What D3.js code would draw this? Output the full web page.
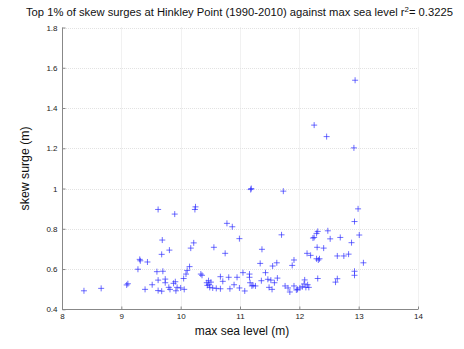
<!DOCTYPE html>
<html><head><meta charset="utf-8">
<script src="https://cdn.jsdelivr.net/npm/d3@7"></script>
<style>body{margin:0;background:#fff}svg{display:block}</style>
</head><body>
<svg id="c" width="464" height="349"></svg>
<script>
const maxSeaLevel = [8.37,8.66,9.09,9.11,9.31,9.32,9.44,9.28,9.62,9.90,9.69,9.81,9.68,9.60,9.70,9.62,9.74,9.40,9.52,9.62,9.68,9.74,9.80,9.88,9.91,9.94,9.92,9.82,10.00,10.06,10.05,10.09,10.11,10.15,10.34,10.36,10.17,10.22,10.25,10.24,10.47,10.51,10.44,10.45,10.48,10.49,10.54,10.60,10.67,10.67,10.71,10.81,10.83,10.90,10.95,10.99,11.05,11.08,10.56,10.75,10.78,10.87,10.99,11.19,11.18,11.73,11.70,11.37,11.34,11.55,11.62,11.91,11.88,11.16,11.16,11.43,11.47,11.52,11.36,11.63,11.58,11.17,11.20,11.22,11.26,11.49,11.54,11.76,11.81,11.84,11.91,11.97,12.01,12.05,12.08,12.09,12.14,12.16,12.11,11.95,12.31,12.64,12.61,12.93,12.93,13.08,12.13,12.19,12.29,12.32,12.34,12.64,12.75,12.83,12.30,12.41,12.31,12.29,12.25,12.23,12.48,12.52,12.69,12.88,13.01,12.93,12.99,12.94,12.25,12.46,12.92];
const skewSurge = [0.492,0.504,0.521,0.527,0.648,0.641,0.635,0.599,0.896,0.873,0.744,0.694,0.673,0.587,0.589,0.545,0.550,0.499,0.522,0.493,0.490,0.532,0.509,0.529,0.537,0.509,0.492,0.499,0.506,0.499,0.553,0.575,0.593,0.612,0.575,0.569,0.704,0.730,0.909,0.896,0.542,0.535,0.532,0.519,0.522,0.509,0.506,0.504,0.502,0.562,0.539,0.559,0.502,0.522,0.559,0.506,0.582,0.491,0.708,0.678,0.827,0.810,0.751,1.000,0.995,0.987,0.770,0.698,0.628,0.615,0.631,0.645,0.618,0.575,0.559,0.582,0.549,0.545,0.542,0.555,0.532,0.532,0.516,0.519,0.516,0.509,0.499,0.516,0.506,0.486,0.516,0.499,0.506,0.512,0.526,0.546,0.522,0.509,0.509,0.496,0.553,0.552,0.535,0.589,0.569,0.631,0.678,0.668,0.651,0.645,0.651,0.665,0.665,0.674,0.708,0.704,0.787,0.777,0.757,0.754,0.790,0.750,0.757,0.731,0.769,0.836,0.899,1.538,1.315,1.258,1.202];
const xTicks = [8,9,10,11,12,13,14];
const yTicks = [0.4,0.6,0.8,1,1.2,1.4,1.6,1.8];
const titleText = "Top 1% of skew surges at Hinkley Point (1990-2010) against max sea level r";
const titleSup = "2";
const titleEnd = "= 0.3225";
const xLabel = "max sea level (m)";
const yLabel = "skew surge (m)";

const svg = d3.select("#c");
const L = 62, R = 418, T = 27.5, B = 309.3;
const x = d3.scaleLinear().domain([8,14]).range([L,R]);
const y = d3.scaleLinear().domain([0.4,1.8]).range([B,T]);
const font = "'Liberation Sans', Arial, Helvetica, sans-serif";

// grid
const g = svg.append("g");
g.selectAll(".gx").data(xTicks).join("line")
  .attr("x1",d=>Math.round(x(d))+0.5).attr("x2",d=>Math.round(x(d))+0.5)
  .attr("y1",T).attr("y2",B)
  .attr("stroke","#e2e2e2").attr("stroke-width",1).attr("stroke-dasharray","1,1");
g.selectAll(".gy").data(yTicks).join("line")
  .attr("y1",d=>Math.round(y(d))+0.5).attr("y2",d=>Math.round(y(d))+0.5)
  .attr("x1",L).attr("x2",R)
  .attr("stroke","#e2e2e2").attr("stroke-width",1).attr("stroke-dasharray","1,1");

// axes
const xa = svg.append("g").attr("transform",`translate(0,${Math.round(B)+0.5})`)
  .call(d3.axisBottom(x).tickValues(xTicks).tickSize(-3).tickPadding(4).tickFormat(d3.format("d")));
const ya = svg.append("g").attr("transform",`translate(${L+0.5},0)`)
  .call(d3.axisLeft(y).tickValues(yTicks).tickSize(-3).tickPadding(5).tickFormat(d=>String(d)));
[xa,ya].forEach(a=>{
  a.select(".domain").attr("stroke","#888").attr("stroke-width",1);
  a.selectAll(".tick line").attr("stroke","#888");
  a.selectAll(".tick text").attr("font-family",font).attr("font-size",8).attr("fill","#222");
});
xa.select(".domain").attr("d",`M${L},0H${R}`);
ya.select(".domain").attr("d",`M0,${B}V${T}`);

// markers
const s = 3;
svg.append("g").selectAll("path").data(maxSeaLevel.map((v,i)=>[v,skewSurge[i]])).join("path")
  .attr("d",d=>{const cx=x(d[0]),cy=y(d[1]);return `M${cx-s},${cy}H${cx+s}M${cx},${cy-s}V${cy+s}`;})
  .attr("stroke","#2a2aff").attr("stroke-width",0.8).attr("fill","none").attr("opacity",0.85);

// title, fitted to the reference width
let fs = 11.5;
const t = svg.append("text").attr("x",26).attr("y",16)
  .attr("font-family",font).attr("font-size",fs).attr("fill","#111");
t.append("tspan").text(titleText);
const sup = t.append("tspan").attr("dy",-4).attr("font-size",fs*0.7).text(titleSup);
const end = t.append("tspan").attr("dy",4).text(titleEnd);
const w = t.node().getComputedTextLength();
fs = fs * 427 / w;
t.attr("font-size",fs); sup.attr("font-size",fs*0.7).attr("dy",-fs*0.4); end.attr("dy",fs*0.4);

svg.append("text").attr("x",(L+R)/2+2).attr("y",335).attr("text-anchor","middle")
  .attr("font-family",font).attr("font-size",12).attr("fill","#111").text(xLabel);
svg.append("text").attr("transform",`translate(29,${(T+B)/2}) rotate(-90)`).attr("text-anchor","middle")
  .attr("font-family",font).attr("font-size",12.3).attr("fill","#111").text(yLabel);
</script>
</body></html>
